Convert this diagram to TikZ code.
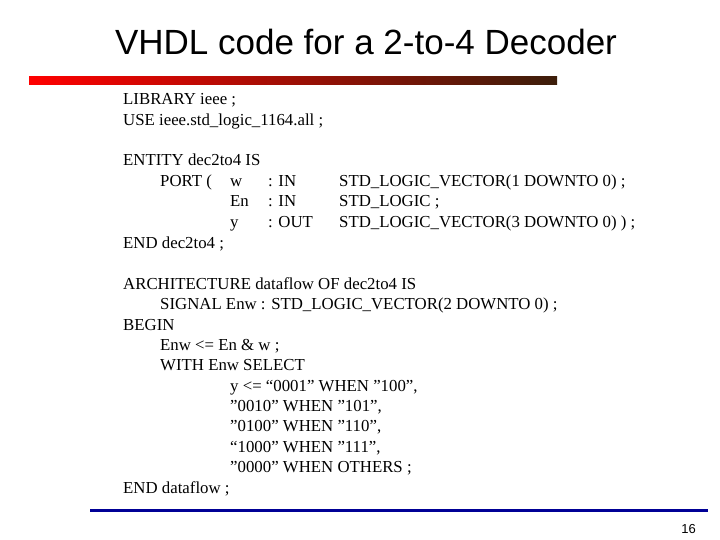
\documentclass[tikz,border=0pt]{standalone}
\usepackage{fontspec}
\setmainfont[Ligatures=NoCommon]{Liberation Serif}
\newfontfamily\arialf{Liberation Sans}
\definecolor{barend}{RGB}{60,30,10}
\definecolor{navyline}{RGB}{0,0,150}
\newcommand{\q}{\symbol{34}}
\begin{document}
\begin{tikzpicture}[x=1pt,y=-1pt,
  code/.style={anchor=base west,inner sep=0pt,font=\fontsize{16.8}{16.8}\selectfont}]
\useasboundingbox (0,0) rectangle (720,540);
\node[anchor=base,inner sep=0pt,font=\arialf\fontsize{35}{35}\selectfont] (title) at (366,55) {VHDL code for a 2-to-4 Decoder};
\shade[left color=red,right color=barend] (29,77) rectangle (557,85);
\fill[navyline] (90,508.5) rectangle (708,511.5);
\node[anchor=base east,inner sep=0pt,font=\arialf\fontsize{13}{13}\selectfont] (pg) at (696,533) {16};
\foreach \t/\x/\y [count=\i] in {
 {LIBRARY ieee ;}/123/105,
 {USE ieee.std\_logic\_1164.all ;}/123/126,
 {ENTITY dec2to4 IS}/123/166,
 {PORT (}/160/187,
 {w}/230/187, {: IN}/268/187, {STD\_LOGIC\_VECTOR(1 DOWNTO 0) ;}/339/187,
 {En}/230/207, {: IN}/268/207, {STD\_LOGIC ;}/339/207,
 {y}/230/228, {: OUT}/268/228, {STD\_LOGIC\_VECTOR(3 DOWNTO 0) ) ;}/339/228,
 {END dec2to4 ;}/123/248,
 {ARCHITECTURE dataflow OF dec2to4 IS}/123/289,
 {SIGNAL Enw : STD\_LOGIC\_VECTOR(2 DOWNTO 0) ;}/160/309,
 {BEGIN}/123/330,
 {Enw <= En \& w ;}/160/350,
 {WITH Enw SELECT}/160/370,
 {y <= “0001\q{} WHEN \q100\q,}/230/391,
 {\q0010\q{} WHEN \q101\q,}/230/411,
 {\q0100\q{} WHEN \q110\q,}/230/431,
 {“1000\q{} WHEN \q111\q,}/230/452,
 {\q0000\q{} WHEN OTHERS ;}/230/472,
 {END dataflow ;}/123/493}
 \node[code] (l\i) at (\x,\y) {\t};
\end{tikzpicture}
\end{document}
